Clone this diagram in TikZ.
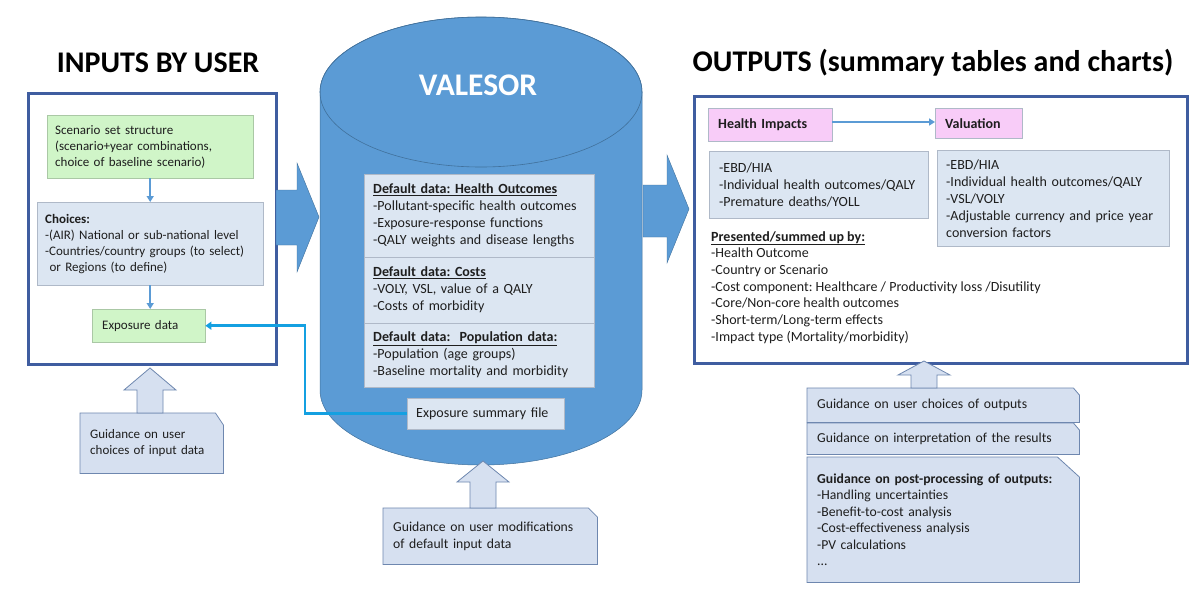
\documentclass[tikz,border=0pt]{standalone}
\usepackage{fontspec}
\setmainfont{Carlito}
\usetikzlibrary{arrows.meta, positioning, backgrounds}
\frenchspacing

\definecolor{panelblue}{RGB}{63,93,160}
\definecolor{cylblue}{RGB}{91,155,213}
\definecolor{cyledge}{RGB}{65,113,156}
\definecolor{paleblue}{RGB}{220,230,242}
\definecolor{paleedge}{RGB}{175,185,200}
\definecolor{palegreen}{RGB}{208,245,200}
\definecolor{greenedge}{RGB}{170,200,165}
\definecolor{palepink}{RGB}{248,204,248}
\definecolor{guidefill}{RGB}{214,224,240}
\definecolor{guideedge}{RGB}{110,135,175}
\definecolor{feedcyan}{RGB}{20,160,225}
\definecolor{txt}{RGB}{30,30,30}

\begin{document}
\begin{tikzpicture}[x=1pt, y=-1pt,
		every node/.style = {font=\fontsize{14}{17}\selectfont, text=txt},
		lefttext/.style = {font=\fontsize{13}{16}\selectfont},
		panel/.style = {draw=panelblue, line width=2.5pt, rectangle, anchor=north west, inner sep=0pt},
		greenbox/.style = {draw=greenedge, fill=palegreen, rectangle, anchor=north west, align=left, inner xsep=8pt, lefttext},
		bluebox/.style = {draw=paleedge, fill=paleblue, rectangle, anchor=north west, align=left, inner xsep=9pt},
		pinkbox/.style = {draw=paleedge, fill=palepink, rectangle, anchor=north west, align=left, inner xsep=10pt, font=\fontsize{14}{17}\selectfont\bfseries},
		guide/.style = {rectangle, anchor=north west, align=left, inner xsep=10pt, font=\fontsize{13.7}{16.5}\selectfont},
		guideshape/.style = {draw=guideedge, fill=guidefill, line width=0.8pt},
		title/.style = {anchor=base, text=black, font=\fontsize{30}{34}\selectfont\bfseries},
		flow/.style = {draw=cylblue, line width=2pt, -{Triangle[width=7pt, length=6pt]}},
		feed/.style = {draw=feedcyan, line width=2.5pt, -{Triangle[width=8pt, length=6pt]}},
		bigarrow/.style = {fill=cylblue, draw=cyledge, line width=0.4pt},
		guidearrow/.style = {fill=guidefill, draw=guideedge, line width=0.8pt}
		]
		\useasboundingbox (0,0) rectangle (1203,600);

		% Titulos
		\node[title] (intitle) at (158,72) {INPUTS BY USER};
		\node[title] (outtitle) at (933,71) {OUTPUTS (summary tables and charts)};

		% Cilindro
		\filldraw[fill=cylblue, draw=cyledge, line width=0.5pt] (320,92) -- (320,390)
			arc[start angle=180, end angle=360, x radius=161pt, y radius=75pt] -- (642,92)
			arc[start angle=0, end angle=180, x radius=161pt, y radius=75pt] -- cycle;
		\draw[draw=cyledge, line width=0.6pt] (481,92) ellipse[x radius=161pt, y radius=75pt];
		\node[anchor=base, text=white, font=\fontsize{31.5}{34}\selectfont\bfseries] (valesor) at (478,95) {VALESOR};

		% Entradas
		\node[panel, minimum width=248pt, minimum height=271pt] (inpanel) at (27,92) {};
		\node[greenbox, minimum width=206pt, minimum height=63pt, text width=190pt] (scen) at (47,115)
			{Scenario set structure\\(scenario+year combinations,\\choice of baseline scenario)};
		\node[bluebox, lefttext, minimum width=226pt, minimum height=83pt, text width=210pt, inner xsep=8pt] (choices) at (37,202)
			{\textbf{Choices:}\\-(AIR) National or sub-national level\\-Countries/country groups (to select)\\\ or Regions (to define)};
		\node[greenbox, minimum width=113pt, minimum height=33pt, text width=93pt, inner xsep=10pt] (expo) at (92,309) {Exposure data};
		\node[guide, lefttext, minimum width=143pt, minimum height=60pt, text width=123pt] (inguide) at (80,413)
			{Guidance on user\\choices of input data};

		% Datos por defecto
		\node[bluebox, minimum width=230pt, minimum height=83pt, text width=212pt] (health) at (364,174)
			{\textbf{\underline{Default data: Health Outcomes}}\\-Pollutant-specific health outcomes\\-Exposure-response functions\\-QALY weights and disease lengths};
		\node[bluebox, minimum width=230pt, minimum height=66pt, text width=212pt] (costs) at (364,257)
			{\textbf{\underline{Default data: Costs}}\\-VOLY, VSL, value of a QALY\\-Costs of morbidity};
		\node[bluebox, minimum width=230pt, minimum height=64pt, text width=212pt] (popul) at (364,323)
			{\textbf{\underline{Default data:\ \ Population data:}}\\-Population (age groups)\\-Baseline mortality and morbidity};
		\node[bluebox, minimum width=157pt, minimum height=31pt, text width=139pt] (expsum) at (407,398) {Exposure summary file};
		\node[guide, minimum width=214pt, minimum height=56pt, text width=194pt] (modguide) at (383,508)
			{Guidance on user modifications\\of default input data};

		% Salidas
		\node[panel, minimum width=493pt, minimum height=267pt] (outpanel) at (693,95) {};
		\node[pinkbox, minimum width=124pt, minimum height=33pt, text width=104pt] (impacts) at (708,108) {Health Impacts};
		\node[pinkbox, minimum width=87pt, minimum height=30pt, text width=67pt] (valuation) at (935,108) {Valuation};
		\node[bluebox, minimum width=219pt, minimum height=67pt, text width=199pt, inner xsep=10pt] (implist) at (709,151)
			{-EBD/HIA\\-Individual health outcomes/QALY\\-Premature deaths/YOLL};
		\node[bluebox, minimum width=232pt, minimum height=96pt, text width=214pt] (vallist) at (937,150)
			{-EBD/HIA\\-Individual health outcomes/QALY\\-VSL/VOLY\\-Adjustable currency and price year\\conversion factors};
		\node[anchor=north west, align=left, inner sep=0pt, font=\fontsize{14}{16.7}\selectfont] (summed) at (711,231)
			{\textbf{\underline{Presented/summed up by:}}\\-Health Outcome\\-Country or Scenario\\-Cost component: Healthcare / Productivity loss /Disutility\\-Core/Non-core health outcomes\\-Short-term/Long-term effects\\-Impact type (Mortality/morbidity)};
		\node[guide, minimum width=272pt, minimum height=34pt, text width=252pt] (choiceguide) at (807,388)
			{Guidance on user choices of outputs};
		\node[guide, minimum width=272pt, minimum height=31pt, text width=252pt] (interpguide) at (807,423)
			{Guidance on interpretation of the results};
		\node[guide, minimum width=272pt, minimum height=125pt, text width=252pt] (postguide) at (807,457)
			{\textbf{Guidance on post-processing of outputs:}\\-Handling uncertainties\\-Benefit-to-cost analysis\\-Cost-effectiveness analysis\\-PV calculations\\...};

		% Notas (esquina cortada)
		\begin{scope}[on background layer]
			\fill[white] (0,0) rectangle (1203,600);
			\foreach \n/\cx/\cy in {inguide/8/12, modguide/9/9, choiceguide/6/7, interpguide/6/7, postguide/22/20}
				\filldraw[guideshape] (\n.south west) -- (\n.north west) -- ([xshift=-\cx pt]\n.north east)
					-- ([yshift=-\cy pt]\n.north east) -- (\n.south east) -- cycle;
		\end{scope}

		% Flechas grandes
		\filldraw[bigarrow] (276,190) -- (297,190) -- (297,163) -- (319,217) -- (297,272) -- (297,245) -- (276,245) -- cycle;
		\filldraw[bigarrow] (643,185) -- (667,185) -- (667,155) -- (689,209) -- (667,263) -- (667,237) -- (643,237) -- cycle;
		\foreach \tx/\ty/\hy/\by in {150/368/390/413, 483/461/482/508, 924/361/375/388}
			\filldraw[guidearrow] (\tx-13,\by) -- (\tx-13,\hy) -- (\tx-26,\hy) -- (\tx,\ty)
				-- (\tx+26,\hy) -- (\tx+13,\hy) -- (\tx+13,\by) -- cycle;

		% Conexiones
		\draw[flow] (scen.south) -- (choices.north);
		\draw[flow] (choices.south) -- (choices.south |- expo.north);
		\draw[flow, line width=1.8pt] (impacts.east |- 0,122) -- (valuation.west |- 0,122);
		\coordinate (bend) at (305,0);
		\draw[feed] (expsum.west) -| (bend |- expo.east) -- (expo.east);
	\end{tikzpicture}
\end{document}
